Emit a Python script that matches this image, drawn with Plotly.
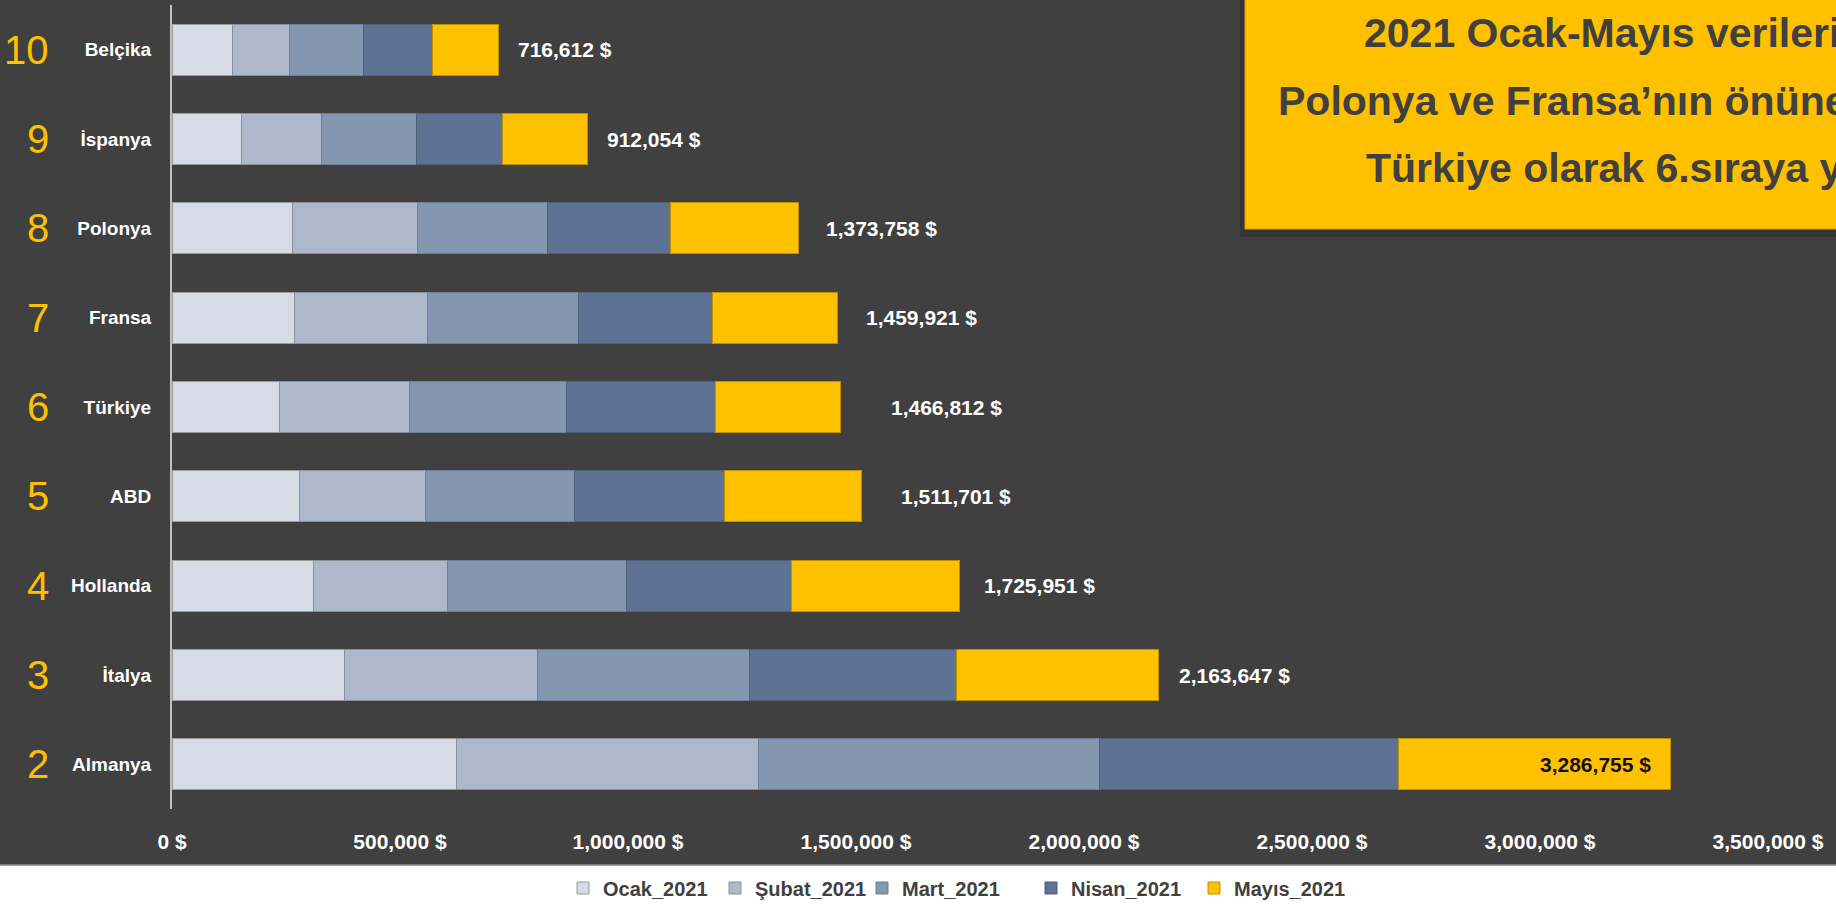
import plotly.graph_objects as go

# ---- data (top to bottom as shown) ----
countries = ["Belçika", "İspanya", "Polonya", "Fransa", "Türkiye", "ABD", "Hollanda", "İtalya", "Almanya"]
ranks = ["10", "9", "8", "7", "6", "5", "4", "3", "2"]
ocak = [132900, 153100, 264100, 269400, 236200, 280100, 310400, 378800, 623800]
subat = [125200, 175500, 274800, 290200, 285200, 276400, 292800, 422700, 663100]
mart = [162100, 207700, 285200, 331200, 343700, 326600, 392900, 465000, 748000]
nisan = [150500, 188900, 269600, 295500, 326200, 328800, 362100, 454700, 654300]
mayis = [145912, 186854, 280058, 273621, 275512, 299801, 367751, 442447, 597555]
totals = [716612, 912054, 1373758, 1459921, 1466812, 1511701, 1725951, 2163647, 3286755]
series_names = ["Ocak_2021", "Şubat_2021", "Mart_2021", "Nisan_2021", "Mayıs_2021"]
tick_values = [0, 500000, 1000000, 1500000, 2000000, 2500000, 3000000, 3500000]
tick_labels = ["0 $", "500,000 $", "1,000,000 $", "1,500,000 $", "2,000,000 $", "2,500,000 $", "3,000,000 $", "3,500,000 $"]
title_lines = ["2021 Ocak-Mayıs verilerine göre", "Polonya ve Fransa’nın önüne geçen", "Türkiye olarak 6.sıraya yükseldi"]

# ---- style ----
colors = ["#D6DCE5", "#ADB9CA", "#8497B0", "#5E7393", "#FFC000"]
edge = ["#9a9a9a", "#8a8f99", "#707f95", "#4f5f78", "#BF9000"]
label_gap = [17, 17, 26, 26, 48, 38, 23, 18, -18]
legend_px = [563, 715, 862, 1031, 1194]
BG = "#404040"
SANS = "Liberation Sans, Arial, sans-serif"

W, H = 1836, 904
ML, MR, MT, MB = 172, 68, 5, 95
PW, PH = W - ML - MR, H - MT - MB


def px_x(x):
    return (x - ML) / PW


def px_y(y):
    return (H - MB - y) / PH


fig = go.Figure()
legend_ids = ["legend", "legend2", "legend3", "legend4", "legend5"]
for name, vals, c, e, lg in zip(series_names, [ocak, subat, mart, nisan, mayis], colors, edge, legend_ids):
    fig.add_trace(go.Bar(
        y=countries, x=vals, name=name, orientation="h",
        marker=dict(color=c, line=dict(color=e, width=1)),
        hoverinfo="x+y+name", legend=lg,
    ))

annotations = []
# value labels
for i, (ctry, tot) in enumerate(zip(countries, totals)):
    inside = label_gap[i] < 0
    annotations.append(dict(
        x=tot, y=ctry, xref="x", yref="y", text=f"<b>{tot:,} $</b>",
        showarrow=False, xanchor="right" if inside else "left", xshift=label_gap[i],
        font=dict(family=SANS, size=21, color="#111111" if inside else "#FFFFFF"),
    ))
# rank numbers
for ctry, r in zip(countries, ranks):
    annotations.append(dict(
        x=px_x(51), y=ctry, xref="paper", yref="y", text=r, showarrow=False,
        xanchor="right", yanchor="middle",
        font=dict(family=SANS, size=40, color="#FFC000"),
    ))
# title box text
for (lx, ly), line in zip([(1362, 33), (1276, 101), (1364, 168)], title_lines):
    annotations.append(dict(
        x=px_x(lx), y=px_y(ly), xref="paper", yref="paper", text=f"<b>{line}</b>",
        showarrow=False, xanchor="left", yanchor="middle",
        font=dict(family=SANS, size=41, color="#404040"),
    ))

shapes = [
    # white legend band
    dict(type="rect", xref="paper", yref="paper", x0=px_x(-10), x1=px_x(W + 10),
         y0=px_y(H + 10), y1=px_y(865), fillcolor="#FFFFFF", line=dict(width=0), layer="below"),
    dict(type="line", xref="paper", yref="paper", x0=px_x(-10), x1=px_x(W + 10),
         y0=px_y(865), y1=px_y(865), line=dict(color="#8c8c8c", width=1.5), layer="below"),
    # title box shadow + box
    dict(type="rect", xref="paper", yref="paper", x0=px_x(1240), x1=px_x(W + 20),
         y0=px_y(237), y1=px_y(-10), fillcolor="rgba(0,0,0,0.18)", line=dict(width=0), layer="above"),
    dict(type="rect", xref="paper", yref="paper", x0=px_x(1245), x1=px_x(W + 20),
         y0=px_y(229), y1=px_y(-10), fillcolor="#FFC000", line=dict(color="#D9A300", width=1), layer="above"),
]

legend_common = dict(
    orientation="h", xanchor="left", y=px_y(888), yanchor="middle",
    font=dict(family=SANS, size=20, color="#404040", weight="bold"),
    bgcolor="rgba(0,0,0,0)", itemclick=False, itemdoubleclick=False,
)
legends = {lg: dict(legend_common, x=px_x(lx)) for lg, lx in zip(legend_ids, legend_px)}

fig.update_layout(
    width=W, height=H,
    margin=dict(l=ML, r=MR, t=MT, b=MB, autoexpand=False),
    barmode="stack", bargap=0.43,
    paper_bgcolor=BG, plot_bgcolor=BG,
    showlegend=True,
    xaxis=dict(
        range=[0, 3500000], tickvals=tick_values, ticktext=tick_labels,
        showgrid=False, zeroline=False, showline=False, ticks="",
        tickfont=dict(family=SANS, size=21, color="#FFFFFF", weight="bold"),
        ticklabelstandoff=18, fixedrange=True,
    ),
    yaxis=dict(
        type="category", autorange="reversed", showgrid=False, zeroline=False,
        showline=True, linecolor="#BFBFBF", linewidth=2, ticks="",
        tickfont=dict(family=SANS, size=19, color="#FFFFFF", weight="bold"),
        ticklabelstandoff=15, fixedrange=True,
    ),
    annotations=annotations,
    shapes=shapes,
    **legends,
)

fig.write_html(
    "out.html",
    config={"displayModeBar": False},
    post_script="document.body.style.margin='0';document.body.style.overflow='hidden';",
)
